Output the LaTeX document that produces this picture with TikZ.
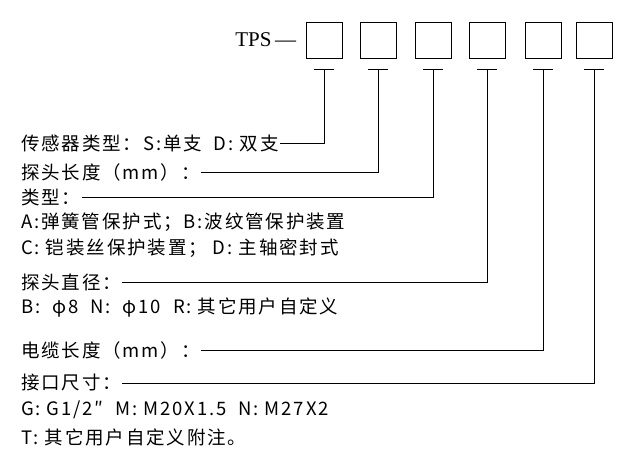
\documentclass[tikz,border=0pt]{standalone}
\usepackage{fontspec}
\setmainfont{Noto Sans CJK SC}[LetterSpace=10]
\newfontfamily\tpsfont{Liberation Serif}
\usetikzlibrary{positioning}

\begin{document}
\begin{tikzpicture}[
            x=1pt,y=-1pt,
            codebox/.style={draw,line width=0.8pt,minimum size=36pt,inner sep=0pt},
            lbl/.style={anchor=west,inner sep=1pt,font=\fontsize{18.5}{20}\selectfont},
            lead/.style={line width=0.8pt}
        ]
            \useasboundingbox (0,0) rectangle (620,452);

            % code boxes
            \node (b1) [codebox] at (324,40) {};
            \node (b2) [codebox] at (378,40) {};
            \node (b3) [codebox] at (433,40) {};
            \node (b4) [codebox] at (487,40) {};
            \node (b5) [codebox] at (543,40) {};
            \node (b6) [codebox] at (594,40) {};
            \node (tps) [left=6pt of b1,font=\fontsize{21}{23}\selectfont\tpsfont] {TPS\,—};

            % ticks below the boxes
            \foreach \i in {1,...,6} {
                \coordinate (t\i) at ([yshift=-11pt]b\i.south);
                \draw [lead] ([xshift=-10pt]t\i) -- ([xshift=10pt]t\i);
            }

            % labels
            \node (l1) [lbl] at (20,143) {传感器类型：S:单支\ \ D:\ 双支};
            \node (l2) [lbl] at (20,172) {探头长度（mm）：};
            \node (l3) [lbl] at (20,197) {类型：};
            \node (n3a) [lbl] at (20,222) {A:弹簧管保护式；B:波纹管保护装置};
            \node (n3b) [lbl] at (20,248) {C:\ 铠装丝保护装置；\ D:\ 主轴密封式};
            \node (l4) [lbl] at (20,282) {探头直径：};
            \node (n4) [lbl] at (20,308) {B:\ \ φ8\ \ N:\ \ φ10\ \ R:\ 其它用户自定义};
            \node (l5) [lbl] at (20,350) {电缆长度（mm）：};
            \node (l6) [lbl] at (20,383) {接口尺寸：};
            \node (n6a) [lbl] at (20,410) {G:\ G1/2″\ \ M:\ M20X1.5\ \ N:\ M27X2};
            \node (n6b) [lbl] at (20,437) {T:\ 其它用户自定义附注。};

            % leaders
            \foreach \i in {1,...,6} {
                \draw [lead] (l\i.east) -| (t\i);
            }
        \end{tikzpicture}
\end{document}
